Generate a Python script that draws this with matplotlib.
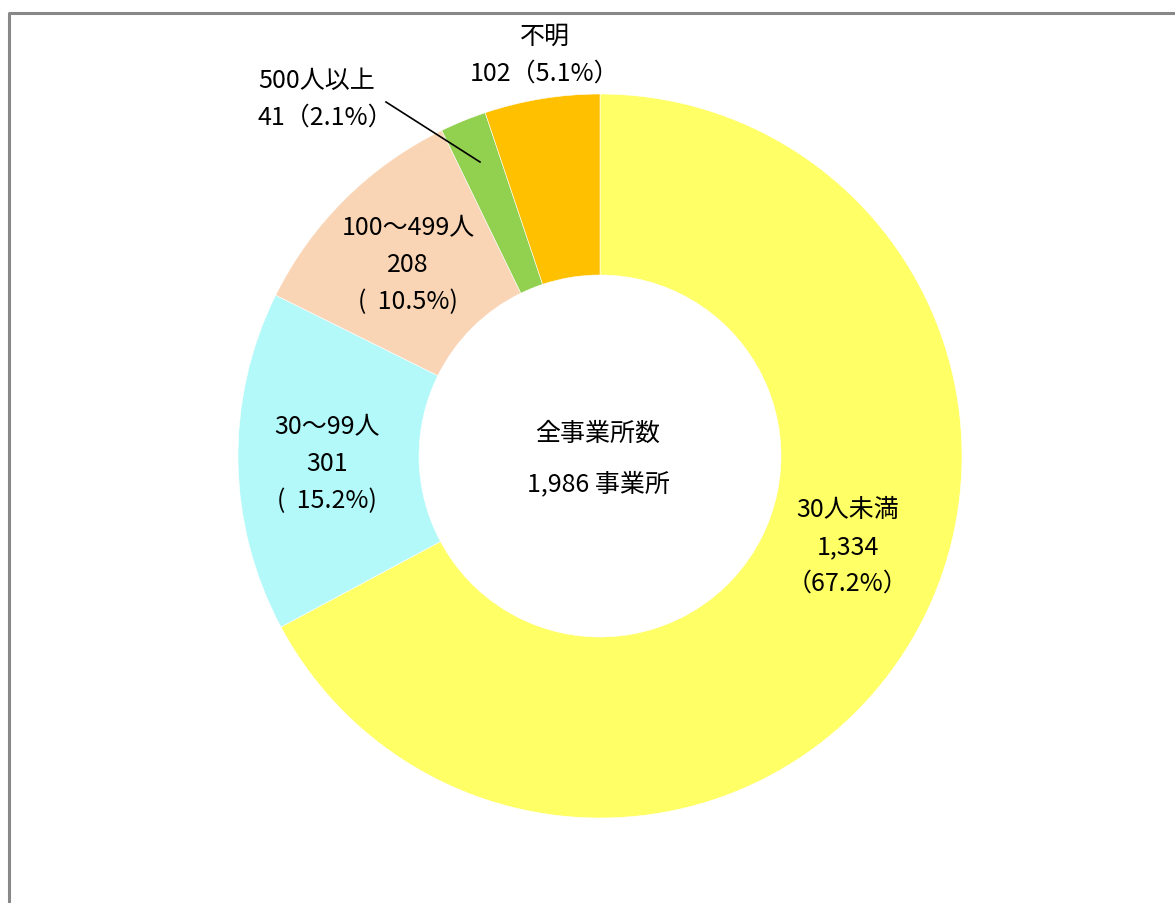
import matplotlib.pyplot as plt
from matplotlib.lines import Line2D

plt.rcParams['font.family'] = ['Noto Sans CJK JP', 'DejaVu Sans']

# データ
categories = ['30人未満', '30～99人', '100～499人', '500人以上', '不明']
counts = [1334, 301, 208, 41, 102]
colors = ['#FFFF66', '#B3F9F9', '#F9D5B6', '#92D050', '#FFC000']
total = sum(counts)
pcts = [c / total * 100 for c in counts]

W, H = 1175, 904
fig = plt.figure(figsize=(W / 100, H / 100), dpi=100)
ax = fig.add_axes([0, 0, 1, 1])

cx, cy, r = 600, H - 457, 362
ax.pie(counts, colors=colors, startangle=90, counterclock=False,
       center=(cx, cy), radius=r,
       wedgeprops=dict(width=r * 0.5, edgecolor='white', linewidth=0.4))
ax.set_xlim(0, W)
ax.set_ylim(0, H)
ax.set_aspect('equal')
ax.axis('off')

fs = 18
ls = 1.55
# ラベル
lab = [
    f'{categories[0]}\n{counts[0]:,}\n（{pcts[0]:.1f}%）',
    f'{categories[1]}\n{counts[1]}\n(  {pcts[1]:.1f}%)',
    f'{categories[2]}\n{counts[2]}\n(  {pcts[2]:.1f}%)',
    f'{categories[3]}\n{counts[3]}（{pcts[3]:.1f}%）',
    f'{categories[4]}\n{counts[4]}（{pcts[4]:.1f}%）',
]
ax.text(848, H - 547, lab[0], ha='center', va='center', fontsize=fs, linespacing=ls)
ax.text(327, H - 464, lab[1], ha='center', va='center', fontsize=fs, linespacing=ls)
ax.text(408, H - 265, lab[2], ha='center', va='center', fontsize=fs, linespacing=ls)
ax.text(258, H - 99, lab[3], ha='left', va='center', fontsize=fs, linespacing=ls)
ax.text(545, H - 55, lab[4], ha='center', va='center', fontsize=fs, linespacing=ls)
ax.plot([386, 480], [H - 103, H - 163], color='black', lw=1.2)

# 中央
ax.text(598, H - 459, f'全事業所数\n\n{total:,} 事業所', ha='center', va='center',
        fontsize=fs, linespacing=0.95)

# 枠線
fig.add_artist(Line2D([8.5 / W, 8.5 / W, 1.02], [-0.02, 1 - 13.5 / H, 1 - 13.5 / H],
                      transform=fig.transFigure, color='#888888', lw=2.2))

plt.savefig('out.png', dpi=100)
